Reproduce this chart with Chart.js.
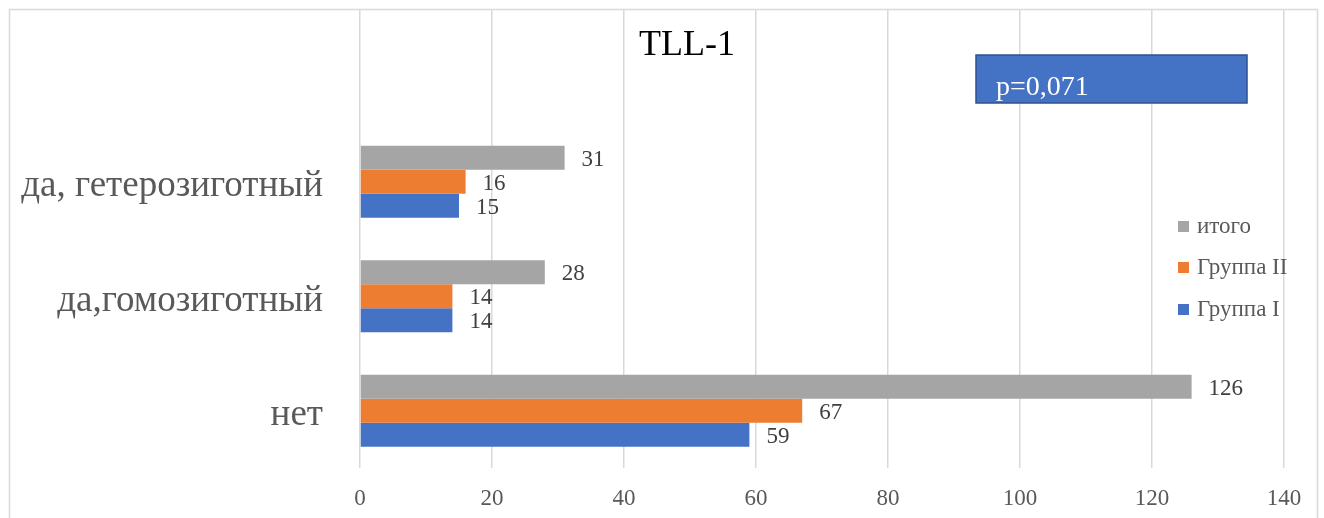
<!DOCTYPE html>
<html>
<head>
<meta charset="utf-8">
<script src="https://cdn.jsdelivr.net/npm/chart.js@4/dist/chart.umd.min.js"></script>
<style>
    html, body { margin: 0; padding: 0; background: #fff; }
    #wrap { width: 1324px; height: 518px; position: relative; }
</style>
</head>
<body>
<div id="wrap"><canvas id="barChart" width="1324" height="518"></canvas></div>
<script>
// Категории (сверху вниз), пустая строка сверху — как в исходной таблице
var categorias = ['', 'да, гетерозиготный', 'да,гомозиготный', 'нет'];
var itogo   = [null, 31, 28, 126];
var grupoII = [null, 16, 14, 67];
var grupoI  = [null, 15, 14, 59];
var ticksX  = [0, 20, 40, 60, 80, 100, 120, 140];

var titulo = 'TLL-1';
var textoP = 'p=0,071';

var serif = "'Liberation Serif', 'Times New Roman', serif";
Chart.defaults.font.family = serif;

// Marco, título, cuadro del valor p y leyenda
var decoracion = {
    id: 'decoracion',
    beforeDraw: function (chart) {
        var ctx = chart.ctx;
        ctx.save();
        ctx.fillStyle = '#ffffff';
        ctx.fillRect(0, 0, chart.width, chart.height);
        ctx.strokeStyle = '#d9d9d9';
        ctx.lineWidth = 1.5;
        ctx.strokeRect(9.5, 9.5, 1308, 520);
        ctx.restore();
    },
    afterDraw: function (chart) {
        var ctx = chart.ctx;
        ctx.save();

        // título
        ctx.fillStyle = '#000000';
        ctx.font = '36px ' + serif;
        ctx.textAlign = 'center';
        ctx.textBaseline = 'middle';
        ctx.fillText(titulo, 687, 46);

        // cuadro p
        ctx.fillStyle = '#4472C4';
        ctx.fillRect(976, 55, 271, 48);
        ctx.strokeStyle = '#2F528F';
        ctx.lineWidth = 1.5;
        ctx.strokeRect(976, 55, 271, 48);
        ctx.fillStyle = '#ffffff';
        ctx.font = '28px ' + serif;
        ctx.textAlign = 'left';
        ctx.fillText(textoP, 996, 88);

        // leyenda
        var ys = [226, 267, 309];
        ctx.font = '23px ' + serif;
        chart.data.datasets.forEach(function (ds, i) {
            ctx.fillStyle = ds.backgroundColor;
            ctx.fillRect(1178, ys[i] - 5, 11, 11);
            ctx.fillStyle = '#595959';
            ctx.fillText(ds.label, 1197, ys[i] + 1);
        });
        ctx.restore();
    }
};

// Etiquetas con el valor al final de cada barra
var etiquetas = {
    id: 'etiquetas',
    afterDatasetsDraw: function (chart) {
        var ctx = chart.ctx;
        ctx.save();
        ctx.font = '23px ' + serif;
        ctx.fillStyle = '#404040';
        ctx.textAlign = 'left';
        ctx.textBaseline = 'middle';
        chart.data.datasets.forEach(function (ds, i) {
            chart.getDatasetMeta(i).data.forEach(function (bar, j) {
                if (ds.data[j] === null) return;
                ctx.fillText(ds.data[j], bar.x + 17, bar.y + 2);
            });
        });
        ctx.restore();
    }
};

var ctx = document.getElementById('barChart').getContext('2d');
var barChart = new Chart(ctx, {
    type: 'bar',
    data: {
        labels: categorias,
        datasets: [
            { label: 'итого', data: itogo, backgroundColor: '#A5A5A5' },
            { label: 'Группа II', data: grupoII, backgroundColor: '#ED7D31' },
            { label: 'Группа I', data: grupoI, backgroundColor: '#4472C4' }
        ]
    },
    options: {
        indexAxis: 'y',
        responsive: false,
        animation: false,
        datasets: {
            bar: { categoryPercentage: 0.63, barPercentage: 1.0 }
        },
        layout: { padding: { top: 10, right: 40, left: 0, bottom: 0 } },
        plugins: {
            legend: { display: false },
            title: { display: false },
            tooltip: { enabled: false }
        },
        scales: {
            x: {
                min: 0,
                max: 140,
                afterBuildTicks: function (scale) {
                    scale.ticks = ticksX.map(function (v) { return { value: v }; });
                },
                afterFit: function (scale) {
                    scale.height = 50;
                    scale.paddingLeft = 0;
                    scale.paddingRight = 0;
                },
                grid: { color: '#d9d9d9', lineWidth: 1.5, drawTicks: false },
                border: { display: false },
                ticks: { color: '#595959', font: { size: 23, family: serif }, padding: 17 }
            },
            y: {
                afterFit: function (scale) {
                    scale.width = 360;
                    scale.paddingTop = 0;
                    scale.paddingBottom = 0;
                },
                grid: { display: false },
                border: { display: false },
                ticks: { color: '#595959', font: { size: 37, family: serif }, padding: 29, labelOffset: 5 }
            }
        }
    },
    plugins: [decoracion, etiquetas]
});
</script>
</body>
</html>
